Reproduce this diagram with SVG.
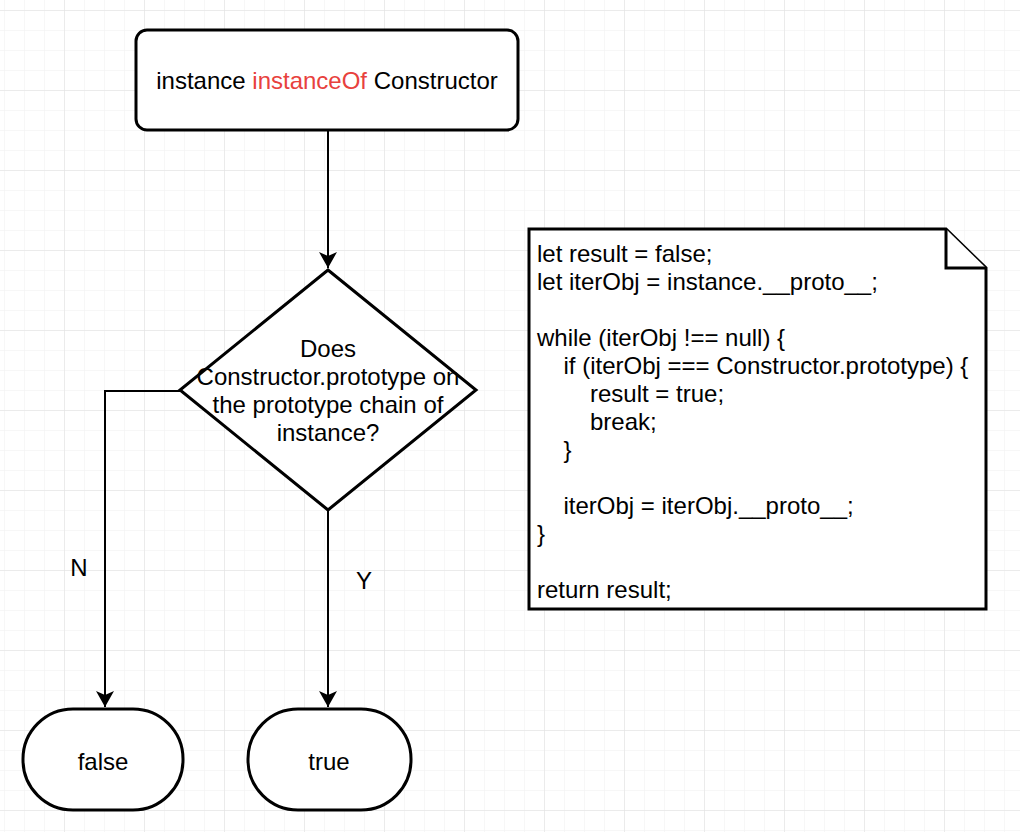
<svg xmlns="http://www.w3.org/2000/svg" width="1020" height="832" viewBox="0 0 1020 832">
<defs>
<pattern id="minor" width="20" height="20" patternUnits="userSpaceOnUse" x="4" y="10">
<path d="M0 0H20M0 0V20" fill="none" stroke="#f0f0f0" stroke-width="1"/>
</pattern>
<pattern id="major" width="80" height="80" patternUnits="userSpaceOnUse" x="64" y="10">
<path d="M0 0H80M0 0V80" fill="none" stroke="#e0e0e0" stroke-width="1"/>
</pattern>
<marker id="arrow" viewBox="0 0 16 18" refX="16" refY="9" markerWidth="16" markerHeight="18" markerUnits="userSpaceOnUse" orient="auto" overflow="visible">
<path d="M0 0L16 9L0 18L4 9Z" fill="#000"/>
</marker>
</defs>
<style>
.shape{fill:#fff;stroke:#000;stroke-width:3}
.edge{fill:none;stroke:#000;stroke-width:2}
text{font-family:"Liberation Sans",Arial,Helvetica,sans-serif;font-size:24px;fill:#000}
.c{text-anchor:middle}
.red{fill:#e8413d}
</style>
<rect width="1020" height="832" fill="#fff"/>
<rect width="1020" height="832" fill="url(#minor)"/>
<rect width="1020" height="832" fill="url(#major)"/>

<g id="connectors">
<path class="edge" d="M328 130V268" marker-end="url(#arrow)"/>
<path class="edge" d="M328 510V707" marker-end="url(#arrow)"/>
<path class="edge" d="M180 391H105V707" marker-end="url(#arrow)"/>
<text x="79" y="576" class="c">N</text>
<text x="364" y="589" class="c">Y</text>
</g>

<g id="start">
<rect class="shape" x="136" y="30" width="382" height="100" rx="11" ry="11"/>
<text x="327" y="89" class="c">instance <tspan class="red">instanceOf</tspan> Constructor</text>
</g>

<g id="decision">
<path class="shape" d="M328 270L476 390L328 510L180 390Z"/>
<text x="328" y="357" class="c">Does</text>
<text x="328" y="385" class="c">Constructor.prototype on</text>
<text x="328" y="413" class="c">the prototype chain of</text>
<text x="328" y="441" class="c">instance?</text>
</g>

<g id="false">
<rect class="shape" x="23" y="709" width="160" height="101" rx="50" ry="50"/>
<text x="103" y="770" class="c">false</text>
</g>

<g id="true">
<rect class="shape" x="248" y="709" width="163" height="101" rx="50" ry="50"/>
<text x="329" y="770" class="c">true</text>
</g>

<g id="code">
<path class="shape" d="M529 229H946L986 268V609H529Z"/>
<path class="shape" d="M946 229V268H986" fill="none"/>
<text x="537" y="262">let result = false;</text>
<text x="537" y="290">let iterObj = instance.__proto__;</text>
<text x="537" y="346">while (iterObj !== null) {</text>
<text x="563.5" y="374">if (iterObj === Constructor.prototype) {</text>
<text x="590" y="402">result = true;</text>
<text x="590" y="430">break;</text>
<text x="563.5" y="458">}</text>
<text x="563.5" y="514">iterObj = iterObj.__proto__;</text>
<text x="537" y="542">}</text>
<text x="537" y="598">return result;</text>
</g>
</svg>
